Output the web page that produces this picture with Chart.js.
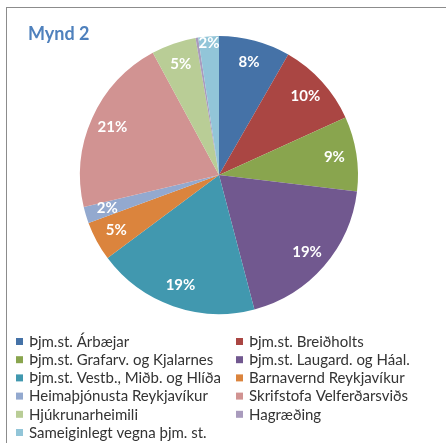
<!DOCTYPE html>
<html lang="is">
<head>
  <meta charset="UTF-8">
  <title>Mynd 2</title>
  <script src="https://cdn.jsdelivr.net/npm/chart.js"></script>
  <style>
    html, body { margin: 0; padding: 0; background: #fff; overflow: hidden; }
    .frame { position: absolute; left: 6px; top: 7px; width: 480px; height: 480px; border: 1px solid #8c8c8c; }
    #chart { position: absolute; left: 0; top: 0; }
  </style>
</head>
<body>
<div class="frame"></div>
<canvas id="chart" width="446" height="443"></canvas>

<script>
  // Data (shares of total, %)
  const categories = [
    'Þjm.st. Árbæjar',
    'Þjm.st. Breiðholts',
    'Þjm.st. Grafarv. og Kjalarnes',
    'Þjm.st. Laugard. og Háal.',
    'Þjm.st. Vestb., Miðb. og Hlíða',
    'Barnavernd Reykjavíkur',
    'Heimaþjónusta Reykjavíkur',
    'Skrifstofa Velferðarsviðs',
    'Hjúkrunarheimili',
    'Hagræðing',
    'Sameiginlegt vegna þjm. st.'
  ];
  const shares = [8.3, 9.9, 8.7, 19.0, 18.9, 4.6, 1.9, 20.8, 5.2, 0.3, 2.4];
  const colors = ['#4572A7', '#AA4643', '#89A54E', '#71588F', '#4198AF', '#DB843D',
                  '#93A9CF', '#D19392', '#B9CD96', '#A99BBD', '#92C5D8'];

  const FONT = 'Lato, "Open Sans", sans-serif';

  // percent labels on the slices
  const sliceLabels = {
    id: 'sliceLabels',
    afterDatasetsDraw(chart) {
      const ctx = chart.ctx;
      const meta = chart.getDatasetMeta(0);
      const vals = chart.data.datasets[0].data;
      const total = vals.reduce((a, b) => a + b, 0);
      ctx.save();
      ctx.font = 'bold 15px ' + FONT;
      ctx.fillStyle = '#fff';
      ctx.textAlign = 'center';
      ctx.textBaseline = 'middle';
      meta.data.forEach((arc, i) => {
        const pct = Math.round(vals[i] / total * 100);
        if (pct < 1) return;
        const a = (arc.startAngle + arc.endAngle) / 2;
        const f = vals[i] < 3 && i === vals.length - 1 ? 0.95 : 0.84;
        const r = arc.outerRadius * f;
        ctx.fillText(pct + '%', arc.x + Math.cos(a) * r, arc.y + Math.sin(a) * r);
      });
      ctx.restore();
    }
  };

  // title + two-column legend under the pie
  const extras = {
    id: 'extras',
    afterDraw(chart) {
      const ctx = chart.ctx;
      ctx.save();
      ctx.font = 'bold 18px ' + FONT;
      ctx.fillStyle = '#4F81BD';
      ctx.textBaseline = 'alphabetic';
      ctx.fillText('Mynd 2', 28, 40);

      ctx.font = '15px ' + FONT;
      ctx.textBaseline = 'middle';
      const colX = [16, 236];
      chart.data.labels.forEach((lab, i) => {
        const x = colX[i % 2];
        const y = 341 + Math.floor(i / 2) * 18.2;
        ctx.fillStyle = chart.data.datasets[0].backgroundColor[i];
        ctx.fillRect(x, y - 3, 7, 7);
        ctx.fillStyle = '#333';
        ctx.fillText(lab, x + 13, y + 1);
      });
      ctx.restore();
    }
  };

  new Chart(document.getElementById('chart'), {
    type: 'pie',
    data: {
      labels: categories,
      datasets: [{
        data: shares,
        backgroundColor: colors,
        borderWidth: 0
      }]
    },
    options: {
      responsive: false,
      animation: false,
      layout: { padding: { left: 80, right: 88, top: 36, bottom: 129 } },
      plugins: {
        legend: { display: false },
        tooltip: { enabled: false }
      }
    },
    plugins: [sliceLabels, extras]
  });
</script>
</body>
</html>
